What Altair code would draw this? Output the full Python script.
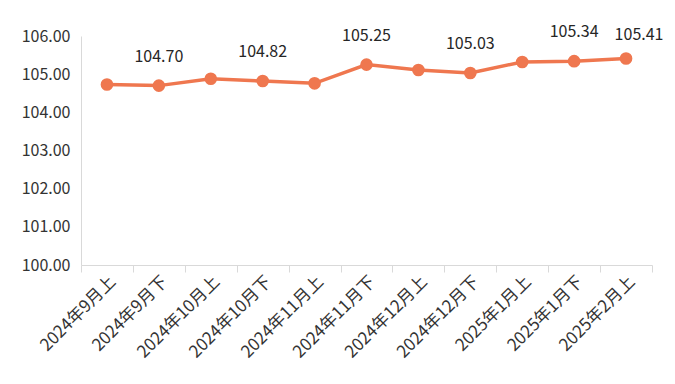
import altair as alt
import pandas as pd

categories = ["2024年9月上", "2024年9月下", "2024年10月上", "2024年10月下", "2024年11月上",
              "2024年11月下", "2024年12月上", "2024年12月下", "2025年1月上", "2025年1月下",
              "2025年2月上"]
values = [104.73, 104.70, 104.88, 104.82, 104.76, 105.25, 105.11, 105.03, 105.32, 105.34, 105.41]
show_label = [False, True, False, True, False, True, False, True, False, True, True]
y_ticks = [100, 101, 102, 103, 104, 105, 106]

df = pd.DataFrame({"cat": categories, "val": values, "lab": show_label,
                   "idx": list(range(len(categories)))})

COLOR = "#EF774F"
FONT = "Noto Sans CJK SC"

x = alt.X("cat:N", sort=categories, title=None,
          scale=alt.Scale(paddingInner=0, paddingOuter=0),
          axis=alt.Axis(labelAngle=-45, labelFontSize=17, labelColor="#333333",
                        labelFont=FONT, domainColor="#d9d9d9", tickColor="#d9d9d9",
                        tickSize=7, tickBand="extent", labelPadding=1))
y = alt.Y("val:Q", title=None,
          scale=alt.Scale(domain=[100, 106], nice=False, zero=False),
          axis=alt.Axis(values=y_ticks, format=".2f", grid=False, ticks=False,
                        labelFontSize=16, labelColor="#333333", labelFont=FONT,
                        domainColor="#d9d9d9", labelPadding=11))

base = alt.Chart(df)
line = base.mark_line(color=COLOR, strokeWidth=3.5).encode(x=x, y=y)
pts = base.mark_point(filled=True, color=COLOR, size=160, opacity=1).encode(x=x, y=y)
txt = base.transform_filter("datum.lab && datum.idx < 10").mark_text(
    dy=-29, fontSize=16, color="#262626", font=FONT, baseline="middle"
).encode(x=x, y=y, text=alt.Text("val:Q", format=".2f"))
txt_last = base.transform_filter("datum.idx == 10").mark_text(
    dy=-24, dx=13, fontSize=16, color="#262626", font=FONT, baseline="middle"
).encode(x=x, y=y, text=alt.Text("val:Q", format=".2f"))

chart = alt.layer(line, pts, txt, txt_last).properties(
    width=571, height=229,
    padding={"left": 73, "top": 28, "right": 15, "bottom": 100},
    autosize=alt.AutoSizeParams(type="none"),
    background="white",
).configure_view(stroke=None)

chart.save("out.html", embed_options={"renderer": "svg", "actions": False})
